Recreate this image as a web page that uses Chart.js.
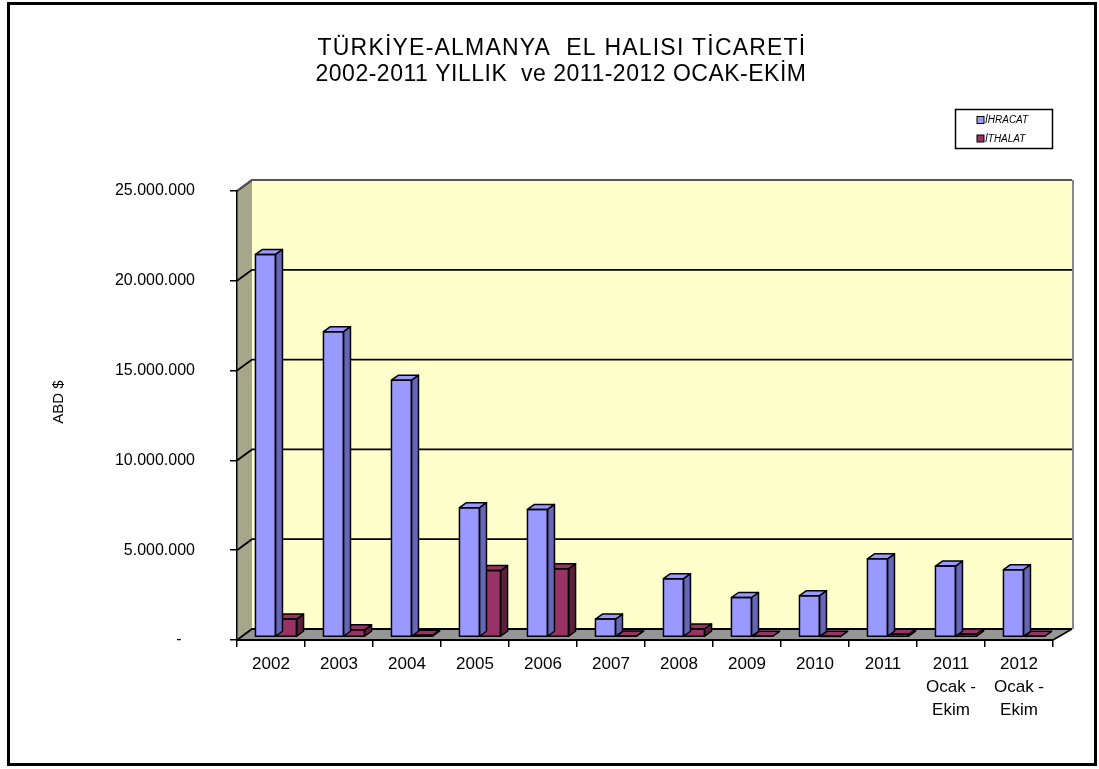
<!DOCTYPE html>
<html><head><meta charset="utf-8">
<script src="https://cdn.jsdelivr.net/npm/chart.js@4.4.0/dist/chart.umd.min.js"></script>
<style>
html,body{margin:0;padding:0;background:#fff;}
#wrap{position:relative;width:1099px;height:769px;overflow:hidden;}
canvas{position:absolute;left:0;top:0;}
#frame{position:absolute;left:7px;top:2px;width:1090px;height:764px;border:3px solid #000;box-sizing:border-box;pointer-events:none;}
</style></head><body>
<div id="wrap"><canvas id="c" width="1099" height="769"></canvas><div id="frame"></div></div>
<script>
// ---- data ----
const categories = [["2002"],["2003"],["2004"],["2005"],["2006"],["2007"],["2008"],["2009"],["2010"],["2011"],["2011","Ocak -","Ekim"],["2012","Ocak -","Ekim"]];
const ihracat = [21300000, 17000000, 14300000, 7200000, 7100000, 1000000, 3250000, 2200000, 2300000, 4350000, 3950000, 3750000];
const ithalat = [1000000, 400000, 100000, 3700000, 3800000, 60000, 450000, 40000, 30000, 150000, 170000, 40000];
const yTicks = [0, 5000000, 10000000, 15000000, 20000000, 25000000];
const titleLines = ["TÜRKİYE-ALMANYA  EL HALISI TİCARETİ", "2002-2011 YILLIK  ve 2011-2012 OCAK-EKİM"];
const yTitle = "ABD $";
const seriesNames = ["İHRACAT", "İTHALAT"];

// ---- styles ----
const FONT = '"Liberation Sans", Arial, sans-serif';
const frontColors = ['#9999FF', '#993366'];
const sideColors = ['#6666B8', '#5E1F3E'];
const topColors = ['#9999FF', '#993366'];
const OX = 5, OY = -3, DX = 7, DY = -5;
const BACK_DXL = 15, BACK_DXR = 19, BACK_DY = -11;
const PLOT_L = 237, PLOT_R = 1053, PLOT_T = 191, PLOT_B = 640;

function fmt(v){
  if (v === 0) return '-   ';
  return String(Math.round(v)).replace(/\B(?=(\d{3})+(?!\d))/g, '.');
}
function poly(ctx, pts){
  ctx.beginPath(); ctx.moveTo(pts[0][0], pts[0][1]);
  for (let i = 1; i < pts.length; i++) ctx.lineTo(pts[i][0], pts[i][1]);
  ctx.closePath();
}

const threeD = {
  id: 'threeD',
  beforeDraw(chart){
    const ctx = chart.ctx, a = chart.chartArea, y = chart.scales.y;
    const yMax = y.getPixelForValue(yTicks[yTicks.length-1]);
    const y0 = y.getPixelForValue(0);
    const bl = a.left + BACK_DXL, br = a.right + BACK_DXR, bt = yMax + BACK_DY, bb = y0 + BACK_DY;
    ctx.save();
    ctx.fillStyle = '#FFFFCC';
    ctx.fillRect(bl, bt, br - bl, bb - bt);
    ctx.fillStyle = '#A6A68A';
    poly(ctx, [[a.left, yMax], [bl, bt], [bl, bb], [a.left, y0]]); ctx.fill();
    ctx.fillStyle = '#969696';
    poly(ctx, [[a.left, y0], [bl, bb], [br, bb], [a.right, y0]]); ctx.fill();
    ctx.strokeStyle = '#000'; ctx.lineWidth = 1.5;
    ctx.beginPath(); ctx.moveTo(a.right, y0); ctx.lineTo(br, bb); ctx.stroke();
    yTicks.forEach(v => {
      const py = y.getPixelForValue(v);
      ctx.strokeStyle = '#000'; ctx.lineWidth = 1.8;
      ctx.beginPath();
      ctx.moveTo(a.left, py); ctx.lineTo(bl, py + BACK_DY);
      if (v !== yTicks[yTicks.length-1]) ctx.lineTo(br, py + BACK_DY);
      ctx.stroke();
    });
    ctx.strokeStyle = '#555'; ctx.lineWidth = 2;
    ctx.beginPath(); ctx.moveTo(a.left, yMax); ctx.lineTo(bl, bt); ctx.lineTo(br, bt); ctx.stroke();
    ctx.strokeStyle = '#888'; ctx.lineWidth = 2;
    ctx.beginPath(); ctx.moveTo(br + 1, bt); ctx.lineTo(br + 1, bb); ctx.stroke();
    ctx.restore();
  },
  beforeDatasetDraw(chart){
    chart.ctx.save();
    chart.ctx.translate(OX, OY);
  },
  afterDatasetDraw(chart, args){
    const ctx = chart.ctx, i = args.index;
    ctx.lineWidth = 1.5; ctx.strokeStyle = '#000'; ctx.lineJoin = 'round';
    args.meta.data.forEach(el => {
      const p = el.getProps(['x','y','base','width'], true);
      const l = p.x - p.width/2, r = p.x + p.width/2;
      const t = Math.min(p.y, p.base), b = Math.max(p.y, p.base);
      ctx.fillStyle = sideColors[i];
      poly(ctx, [[r, t], [r + DX, t + DY], [r + DX, b + DY], [r, b]]); ctx.fill(); ctx.stroke();
      ctx.fillStyle = topColors[i];
      poly(ctx, [[l, t], [l + DX, t + DY], [r + DX, t + DY], [r, t]]); ctx.fill(); ctx.stroke();
      ctx.strokeRect(l, t, r - l, b - t);
    });
    ctx.restore();
  },
  afterDraw(chart){
    const ctx = chart.ctx;
    ctx.save();
    ctx.fillStyle = '#000';
    ctx.textAlign = 'center'; ctx.textBaseline = 'alphabetic';
    ctx.font = '23px ' + FONT;
    ctx.letterSpacing = '1.2px';
    ctx.fillText(titleLines[0], 562, 55);
    ctx.letterSpacing = '0.5px';
    ctx.fillText(titleLines[1], 561, 81);
    ctx.letterSpacing = '0px';
    ctx.save();
    ctx.translate(59, 402); ctx.rotate(-Math.PI/2);
    ctx.font = '15px ' + FONT; ctx.textBaseline = 'middle';
    ctx.fillText(yTitle, 0, 0);
    ctx.restore();
    ctx.strokeStyle = '#000'; ctx.lineWidth = 1.5;
    ctx.strokeRect(955.5, 109.5, 97, 39);
    ctx.font = 'italic 10px ' + FONT; ctx.textAlign = 'left'; ctx.textBaseline = 'middle';
    chart.data.datasets.forEach((ds, k) => {
      const cy = 120 + k * 18.5;
      ctx.fillStyle = frontColors[k];
      ctx.fillRect(977, cy - 3.5, 7, 7);
      ctx.lineWidth = 1; ctx.strokeStyle = '#000';
      ctx.strokeRect(977, cy - 3.5, 7, 7);
      ctx.fillStyle = '#000';
      ctx.fillText(ds.label, 985, cy + 0.5);
    });
    ctx.restore();
  }
};

Chart.defaults.font.family = FONT;
Chart.defaults.color = '#000';

new Chart(document.getElementById('c'), {
  type: 'bar',
  data: {
    labels: categories,
    datasets: [
      { label: seriesNames[0], data: ihracat, backgroundColor: frontColors[0], borderColor: '#000', borderWidth: 0, clip: false },
      { label: seriesNames[1], data: ithalat, backgroundColor: frontColors[1], borderColor: '#000', borderWidth: 0, clip: false }
    ]
  },
  options: {
    responsive: false,
    devicePixelRatio: 1,
    animation: false,
    layout: { padding: { left: 0, top: PLOT_T, right: 1099 - PLOT_R, bottom: 0 } },
    datasets: { bar: { barPercentage: 0.95, categoryPercentage: 0.62 } },
    plugins: { legend: { display: false }, tooltip: { enabled: false }, title: { display: false } },
    scales: {
      x: {
        offset: true,
        grid: { display: true, drawOnChartArea: false, drawTicks: true, tickLength: 7, color: '#000', lineWidth: 1.5, offset: true },
        border: { display: true, color: '#000', width: 2 },
        ticks: { font: { size: 17, lineHeight: 1.35 }, padding: 6, maxRotation: 0, autoSkip: false, color: '#000' },
        afterFit(s){ s.height = 769 - PLOT_B; }
      },
      y: {
        min: 0, max: 25000000,
        grid: { display: true, drawOnChartArea: false, drawTicks: true, tickLength: 7, color: '#000', lineWidth: 1.5 },
        border: { display: true, color: '#000', width: 1.5 },
        ticks: { stepSize: 5000000, font: { size: 16 }, padding: 35, color: '#000', callback: v => fmt(v) },
        afterFit(s){ s.width = PLOT_L; }
      }
    }
  },
  plugins: [threeD]
});
</script>
</body></html>
